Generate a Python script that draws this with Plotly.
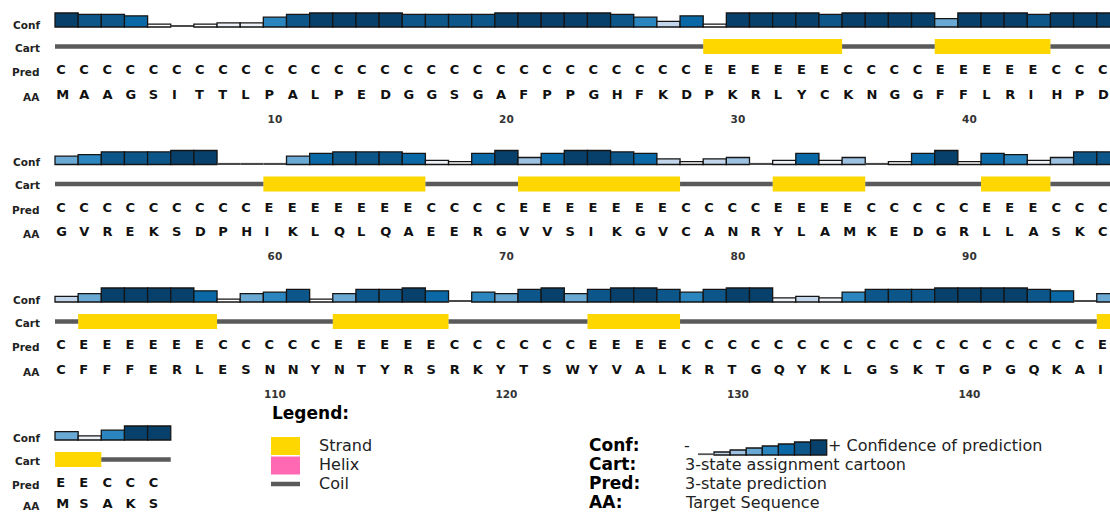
import plotly.graph_objects as go

# ---------------- sequence data (one entry per displayed block) ----------------
ROW_START = [1, 51, 101, 151]

AA_ROWS = [
    "MAAGSITTLPALPEDGGSGAFPPGHFKDPKRLYCKNGGFFLRIHPD",
    "GVREKSDPHIKLQLQAEERGVVSIKGVCANRYLAMKEDGRLLASKC",
    "CFFFERLESNNYNTYRSRKYTSWYVALKRTGQYKLGSKTGPGQKAI",
    "MSAKS",
]

PRED_ROWS = [
    "CCCCCCCCCCCCCCCCCCCCCCCCCCCCEEEEEECCCCEEEEECCC",
    "CCCCCCCCCEEEEEEECCCCEEEEEEECCCCEEEECCCCCEEECCC",
    "CEEEEEECCCCCEEEEECCCCCCEEEECCCCCCCCCCCCCCCCCCE",
    "EECCC",
]

CONF_ROWS = [
    [9, 8, 8, 7, 1, 0, 1, 2, 2, 6, 8, 9, 9, 9, 9, 8, 8, 8, 8, 9, 9, 9, 9, 9, 8, 6, 3,
     7, 1, 9, 9, 9, 9, 8, 9, 9, 9, 9, 5, 9, 9, 9, 8, 9, 9, 9],
    [5, 6, 8, 8, 8, 9, 9, 0, 0, 0, 5, 7, 8, 8, 8, 7, 2, 1, 7, 9, 4, 7, 9, 9, 8, 7, 3,
     1, 3, 4, 0, 2, 7, 2, 4, 0, 1, 7, 9, 1, 7, 6, 2, 4, 8, 8],
    [3, 5, 9, 9, 9, 9, 7, 1, 5, 6, 8, 1, 5, 8, 8, 9, 7, 0, 6, 5, 8, 9, 5, 8, 9, 9, 8,
     6, 8, 9, 9, 2, 3, 2, 6, 8, 8, 8, 9, 9, 9, 9, 8, 7, 0, 5],
    [5, 2, 6, 9, 9],
]

# ---------------- styling ----------------
FONT = "DejaVu Sans"
TEXT_DARK = "#111111"
CONF_COLORS = ["#4a4a4a", "#ffffff", "#eef1f8", "#c3d5ea", "#9dc1e0",
               "#6aa9d3", "#2b85be", "#0b68a6", "#0c5689", "#07406b"]
SS_COLORS = {"E": "#FFD700", "H": "#FF69B4"}
COIL_COLOR = "#5a5a5a"

W, H = 1110, 512
COL_PX = 23.15          # width of one residue column in pixels
LEFT_PX = 55            # left edge of the first residue column
ROW_TOP = [0, 137.5, 275, 413]
BASE_OFF, CART_OFF, PRED_OFF, TICK_OFF = 27, 46.5, 71, 120
AA_OFF = [95.5, 95.5, 95.5, 92]
LABEL_OFFS = {"Conf": 24.5, "Cart": 47.5, "Pred": 72, "AA": 96.5}
CONF_MAX_PX = 14
SS_BOX_PX = 15


def conf_height(c):
    return 1.6 if c == 0 else CONF_MAX_PX * (c + 1) / 10


def runs(s):
    out, start = [], 0
    for i in range(1, len(s) + 1):
        if i == len(s) or s[i] != s[start]:
            out.append((start, i, s[start]))
            start = i
    return out


fig = go.Figure()

# ---- confidence bars ----
cx, cy, cb, ccol, clw = [], [], [], [], []
for r, conf in enumerate(CONF_ROWS):
    base = ROW_TOP[r] + BASE_OFF
    for i, c in enumerate(conf):
        cx.append(i + 0.5)
        cy.append(-conf_height(c))
        cb.append(base)
        ccol.append(CONF_COLORS[c])
        clw.append(0 if c == 0 else 1.3)
fig.add_trace(go.Bar(x=cx, y=cy, base=cb, width=1, marker=dict(
    color=ccol, line=dict(color="#151515", width=clw)), hoverinfo="skip"))

# ---- cartoon: strand / helix boxes and coil line ----
sx, sy, sb, sw, scol = [], [], [], [], []
lx, ly = [], []
for r, pred in enumerate(PRED_ROWS):
    yc = ROW_TOP[r] + CART_OFF
    for a, b, ch in runs(pred):
        if ch in SS_COLORS:
            sx.append((a + b) / 2)
            sw.append(b - a)
            sb.append(yc + SS_BOX_PX / 2)
            sy.append(-SS_BOX_PX)
            scol.append(SS_COLORS[ch])
        else:
            lx += [a, b, None]
            ly += [yc, yc, None]
fig.add_trace(go.Bar(x=sx, y=sy, base=sb, width=sw,
                     marker=dict(color=scol, line=dict(width=0)), hoverinfo="skip"))
fig.add_trace(go.Scatter(x=lx, y=ly, mode="lines",
                         line=dict(color=COIL_COLOR, width=4.5), hoverinfo="skip"))

# ---- prediction and sequence letters ----
for rows, offs in ((PRED_ROWS, [PRED_OFF] * len(PRED_ROWS)), (AA_ROWS, AA_OFF)):
    tx, ty, tt = [], [], []
    for r, s in enumerate(rows):
        for i, ch in enumerate(s):
            tx.append(i + 0.05)
            ty.append(ROW_TOP[r] + offs[r])
            tt.append(ch)
    fig.add_trace(go.Scatter(x=tx, y=ty, text=tt, mode="text", textposition="middle right",
                             textfont=dict(family=FONT, size=13, color=TEXT_DARK, weight="bold"),
                             hoverinfo="skip"))

# ---- residue numbering every 10 ----
nx, ny, nt = [], [], []
for r, s in enumerate(AA_ROWS):
    for i in range(len(s)):
        num = ROW_START[r] + i
        if num % 10 == 0:
            nx.append(i + 0.5)
            ny.append(ROW_TOP[r] + TICK_OFF)
            nt.append(str(num))
fig.add_trace(go.Scatter(x=nx, y=ny, text=nt, mode="text", textposition="middle center",
                         textfont=dict(family=FONT, size=10.5, color="#333333", weight="bold"),
                         hoverinfo="skip"))

annotations = []
shapes = []

# ---- row labels ----
for r, top in enumerate(ROW_TOP):
    for name, off in LABEL_OFFS.items():
        if name == "AA":
            off = AA_OFF[r] + 1
        annotations.append(dict(x=42, y=top + off, xref="x2", yref="y", text=name,
                                showarrow=False, xanchor="right", yanchor="middle",
                                font=dict(family=FONT, size=10.5, color="#222222", weight="bold")))

# ---- key ----
KEY_FONT = 16
KEY_Y = [445, 464, 483, 502]
annotations.append(dict(x=270, y=413, xref="x2", yref="y", text="Legend:", showarrow=False,
                        xanchor="left", yanchor="middle",
                        font=dict(family=FONT, size=17, color="#000000", weight="bold")))
for name, yk in zip(["Strand", "Helix", "Coil"], KEY_Y):
    annotations.append(dict(x=317, y=yk, xref="x2", yref="y", text=name, showarrow=False,
                            xanchor="left", yanchor="middle",
                            font=dict(family=FONT, size=KEY_FONT, color="#222222")))
shapes.append(dict(type="rect", xref="x2", yref="y", x0=271, x1=300, y0=437, y1=455,
                   fillcolor=SS_COLORS["E"], line=dict(width=0)))
shapes.append(dict(type="rect", xref="x2", yref="y", x0=271, x1=300, y0=456.5, y1=474.5,
                   fillcolor=SS_COLORS["H"], line=dict(width=0)))
shapes.append(dict(type="line", xref="x2", yref="y", x0=271, x1=300, y0=484, y1=484,
                   line=dict(color=COIL_COLOR, width=4.5)))

desc_rows = [("Conf:", None), ("Cart:", "3-state assignment cartoon"),
             ("Pred:", "3-state prediction"), ("AA:", "Target Sequence")]
for (lab, desc), yk in zip(desc_rows, KEY_Y):
    annotations.append(dict(x=587, y=yk, xref="x2", yref="y", text=lab, showarrow=False,
                            xanchor="left", yanchor="middle",
                            font=dict(family=FONT, size=KEY_FONT + 1, color="#000000", weight="bold")))
    if desc:
        annotations.append(dict(x=683, y=yk, xref="x2", yref="y", text=desc, showarrow=False,
                                xanchor="left", yanchor="middle",
                                font=dict(family=FONT, size=KEY_FONT, color="#222222")))
annotations.append(dict(x=682, y=KEY_Y[0], xref="x2", yref="y", text="-", showarrow=False,
                        xanchor="left", yanchor="middle",
                        font=dict(family=FONT, size=KEY_FONT, color="#222222")))
annotations.append(dict(x=826, y=KEY_Y[0], xref="x2", yref="y", text="+ Confidence of prediction",
                        showarrow=False, xanchor="left", yanchor="middle",
                        font=dict(family=FONT, size=KEY_FONT, color="#222222")))

# confidence scale in the key
SCALE_LEFT, SCALE_BASE, SCALE_W = 714, 455, 16.1
SCALE_H = [3, 5, 7, 9, 11, 13, 15]
shapes.append(dict(type="line", xref="x2", yref="y", x0=698, x1=SCALE_LEFT,
                   y0=SCALE_BASE - 0.8, y1=SCALE_BASE - 0.8, line=dict(color="#555555", width=1.8)))
fig.add_trace(go.Bar(
    x=[SCALE_LEFT + SCALE_W * (k + 0.5) for k in range(len(SCALE_H))],
    y=[-h for h in SCALE_H], base=[SCALE_BASE] * len(SCALE_H), width=SCALE_W,
    marker=dict(color=CONF_COLORS[3:], line=dict(color="#151515", width=1.3)),
    xaxis="x2", yaxis="y", hoverinfo="skip"))

fig.update_layout(
    width=W, height=H, margin=dict(l=0, r=0, t=0, b=0),
    paper_bgcolor="white", plot_bgcolor="white",
    showlegend=False, barmode="overlay",
    xaxis=dict(range=[-LEFT_PX / COL_PX, (W - LEFT_PX) / COL_PX], visible=False, fixedrange=True),
    xaxis2=dict(range=[0, W], overlaying="x", anchor="y", visible=False, fixedrange=True),
    yaxis=dict(range=[H, 0], visible=False, fixedrange=True),
    annotations=annotations, shapes=shapes,
)

fig.write_html("out.html", config={"displayModeBar": False})
